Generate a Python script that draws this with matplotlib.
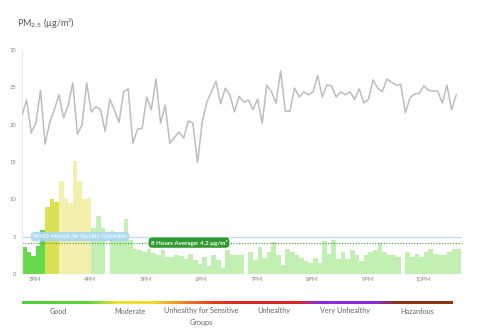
import matplotlib
matplotlib.use("Agg")
import matplotlib.pyplot as plt
import numpy as np
from matplotlib.colors import LinearSegmentedColormap

plt.rcParams['font.family'] = ['Lato', 'DejaVu Sans']

# ---------------- data ----------------
start_hour = 14 + 46 / 60          # first reading 2:46 PM
step_min = 5                       # 5-minute readings

line_values = [21.3, 23.3, 18.9, 20.2, 24.6, 17.4, 20.3, 22.0, 24.0, 20.9,
               22.6, 25.6, 18.7, 20.0, 25.6, 21.7, 22.4, 22.0, 19.1, 23.4,
               22.0, 20.3, 24.4, 24.8, 17.5, 19.4, 19.5, 23.7, 22.0, 26.1,
               20.2, 22.6, 17.5, 18.3, 19.0, 18.2, 20.5, 20.2, 14.9, 20.3,
               23.0, 24.4, 25.8, 22.8, 24.9, 24.0, 21.7, 23.8, 23.0, 23.3,
               22.0, 23.4, 20.2, 25.3, 24.4, 22.9, 27.2, 21.8, 21.8, 24.9,
               23.7, 24.4, 24.0, 24.4, 26.6, 23.7, 25.3, 25.2, 23.7, 24.4,
               24.0, 24.4, 23.4, 24.8, 22.9, 23.4, 26.0, 24.9, 24.4, 26.1,
               25.7, 25.3, 25.4, 21.6, 23.6, 24.1, 24.2, 25.2, 24.6, 24.5,
               24.5, 22.9, 25.3, 22.0, 24.0]

bar_values = [3.6, 3.0, 2.4, 3.8, 5.9, 9.0, 10.0, 9.7, 12.4, 10.2,
              9.5, 15.1, 12.5, 10.1, 10.2, 6.2, 7.8, 6.2, 0.0, 5.8,
              5.5, 5.0, 7.4, 4.6, 3.3, 3.2, 3.0, 3.4, 2.8, 2.5,
              3.2, 2.3, 2.3, 2.5, 2.4, 2.0, 2.7, 1.9, 1.4, 2.3,
              1.1, 2.5, 1.9, 0.8, 3.2, 2.5, 2.6, 2.5, 0.0, 3.0,
              1.9, 3.6, 2.2, 3.0, 4.3, 2.6, 1.2, 3.3, 3.0, 2.6,
              2.2, 1.8, 1.5, 2.2, 1.5, 4.4, 2.7, 4.6, 2.0, 2.9,
              2.0, 3.2, 2.5, 1.8, 2.5, 3.0, 3.2, 4.2, 3.0, 2.5,
              2.5, 2.3, 0.0, 3.0, 2.3, 2.7, 2.3, 3.0, 3.4, 2.7,
              2.5, 2.5, 3.0, 3.4, 3.4]

who_guideline = 5.0
average_value = 4.2

y_ticks = [0, 5, 10, 15, 20, 25, 30]
x_tick_hours = [15, 16, 17, 18, 19, 20, 21, 22]
x_tick_labels = ['3PM', '4PM', '5PM', '6PM', '7PM', '8PM', '9PM', '10PM']

categories = ['Good', 'Moderate', 'Unhealthy for Sensitive\nGroups',
              'Unhealthy', 'Very Unhealthy', 'Hazardous']

# ---------------- figure ----------------
W, H = 480, 336
fig = plt.figure(figsize=(W / 100, H / 100), dpi=100)

px_per_hour = 55.43
ax_left, ax_right, ax_top, ax_bottom = 22, 462, 50, 274
ax = fig.add_axes([ax_left / W, 1 - ax_bottom / H,
                   (ax_right - ax_left) / W, (ax_bottom - ax_top) / H])

n = len(bar_values)
times = start_hour + np.arange(n) * step_min / 60
width_h = step_min / 60

bar_cols = []
for i in range(n):
    if i < 5:
        bar_cols.append('#66d94c')
    elif i < 8:
        bar_cols.append('#dbe152')
    elif i < 15:
        bar_cols.append('#f3f0ae')
    else:
        bar_cols.append('#c1f0b2')
ax.bar(times, bar_values, width=width_h, align='edge', color=bar_cols,
       linewidth=0, zorder=1)

lt = start_hour + np.arange(len(line_values)) * step_min / 60
ax.plot(lt, line_values, color='#bdbdbd', lw=1.1, zorder=3,
        solid_joinstyle='round')

ax.axhline(who_guideline, color='#bcdcee', lw=0.9, zorder=2)
ax.axhline(average_value, color='#3d9b3d', lw=0.8, ls=(0, (1, 1.5)), zorder=2)

ax.text(start_hour + (80 - ax_left) / px_per_hour, who_guideline,
        'WHO Annual Air Quality Guideline', fontsize=4.4, color='white',
        ha='center', va='center', zorder=5,
        bbox=dict(boxstyle='round,pad=0.35,rounding_size=0.6',
                  fc='#a9d6f2', ec='none', alpha=0.9))
ax.text(start_hour + (189 - ax_left) / px_per_hour, average_value,
        '8 Hours Average: 4.2 µg/m³', fontsize=4.4, color='white',
        ha='center', va='center', zorder=5, fontweight='bold',
        bbox=dict(boxstyle='round,pad=0.35,rounding_size=0.6',
                  fc='#2f9a2f', ec='none'))

ax.set_xlim(start_hour, start_hour + (ax_right - ax_left) / px_per_hour)
ax.set_ylim(0, 30)
ax.set_yticks(y_ticks)
ax.set_yticklabels([str(v) for v in y_ticks])
ax.set_xticks(x_tick_hours)
ax.set_xticklabels(x_tick_labels)
ax.tick_params(axis='both', length=0, labelsize=4.2, colors='#888888')
ax.tick_params(axis='y', pad=4)
ax.tick_params(axis='x', pad=2.5)
for s in ['top', 'right', 'bottom']:
    ax.spines[s].set_visible(False)
ax.spines['left'].set_color('#ebebeb')
ax.spines['left'].set_linewidth(0.8)

fig.text(17 / W, 1 - 23 / H, r'PM$_{2.5}$ (µg/m³)', fontsize=6.5,
         color='#555555', ha='left', va='center')

# ---------------- category legend ----------------
gx0, gx1, gy = 22, 453, 302.5
gax = fig.add_axes([gx0 / W, 1 - (gy + 1.3) / H, (gx1 - gx0) / W, 2.6 / H])
stops = [(0.0, '#55d03a'), (0.15, '#5fd23c'), (0.22, '#ece13a'),
         (0.30, '#f2dc30'), (0.37, '#f08a25'), (0.44, '#e8401f'),
         (0.50, '#e02424'), (0.64, '#dc2525'), (0.69, '#8a2be2'),
         (0.82, '#8a2be2'), (0.87, '#8b3515'), (1.0, '#8b3515')]
cmap = LinearSegmentedColormap.from_list('aqi', stops)
gax.imshow(np.linspace(0, 1, 512)[None, :], aspect='auto', cmap=cmap,
           extent=[0, 1, 0, 1])
gax.set_axis_off()

seg = (gx1 - gx0) / len(categories)
for k, name in enumerate(categories):
    cx = gx0 + seg * (k + 0.5)
    fig.text(cx / W, 1 - 307.5 / H, name, fontsize=5.2, color='#666666',
             ha='center', va='top', linespacing=1.75)

fig.savefig('out.png', dpi=100)
